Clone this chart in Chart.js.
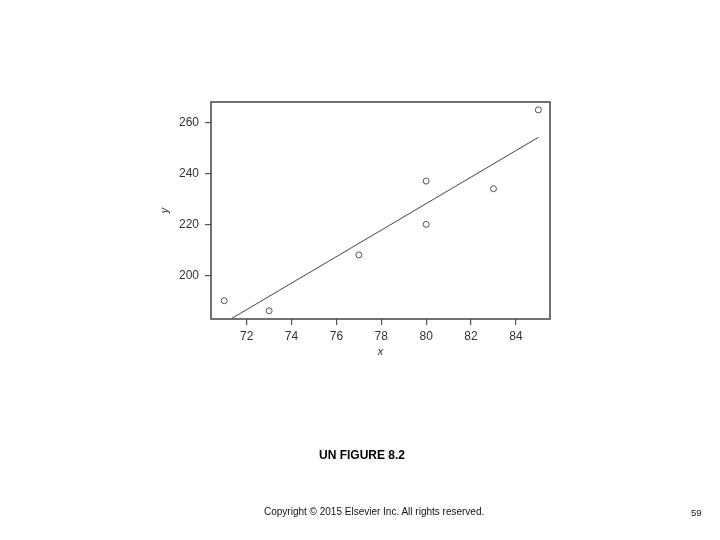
<!DOCTYPE html>
<html>
<head>
<meta charset="utf-8">
<script src="https://cdn.jsdelivr.net/npm/chart.js@4.4.1/dist/chart.umd.min.js"></script>
<style>
  html, body { margin: 0; padding: 0; background: #fff; }
  #wrap { position: relative; width: 720px; height: 540px; }
  #wrap canvas { position: absolute; left: 0; top: 0; }
  .txt { position: absolute; font-family: "Liberation Sans", Arial, sans-serif; color: #000; white-space: nowrap; }
  #fig { left: 319px; top: 448px; font-size: 12px; font-weight: bold; }
  #copy { left: 264px; top: 506px; font-size: 10px; color: #111; }
  #page { left: 691px; top: 507px; font-size: 9.5px; color: #111; }
</style>
</head>
<body>
<div id="wrap">
  <canvas id="chart" width="720" height="540"></canvas>
  <div class="txt" id="fig">UN FIGURE 8.2</div>
  <div class="txt" id="copy">Copyright © 2015 Elsevier Inc. All rights reserved.</div>
  <div class="txt" id="page">59</div>
</div>
<script>
// observed points
const xVals = [71, 73, 77, 80, 80, 83, 85];
const yVals = [190, 186, 208, 237, 220, 234, 265];

// fitted line, end points
const fitX = [71.35, 85];
const fitY = [183.1, 254.2];

// axis ticks
const xTicks = [72, 74, 76, 78, 80, 82, 84];
const yTicks = [200, 220, 240, 260];

const axisColor = '#555';
const labelColor = '#333';

// full box around the plot area
const frame = {
  id: 'frame',
  afterDraw(chart) {
    const a = chart.chartArea;
    const ctx = chart.ctx;
    ctx.save();
    ctx.strokeStyle = '#444';
    ctx.lineWidth = 1.5;
    ctx.strokeRect(a.left, a.top, a.right - a.left, a.bottom - a.top);
    ctx.restore();
  }
};

new Chart(document.getElementById('chart'), {
  type: 'scatter',
  data: {
    datasets: [
      {
        data: xVals.map((x, i) => ({ x: x, y: yVals[i] })),
        showLine: false,
        pointStyle: 'circle',
        pointRadius: 3,
        pointBorderWidth: 1,
        pointBorderColor: '#555',
        pointBackgroundColor: '#fff'
      },
      {
        data: fitX.map((x, i) => ({ x: x, y: fitY[i] })),
        showLine: true,
        pointRadius: 0,
        borderColor: '#444',
        borderWidth: 1,
        fill: false
      }
    ]
  },
  options: {
    responsive: false,
    animation: false,
    layout: { padding: { left: 150, top: 102, right: 170, bottom: 176 } },
    plugins: { legend: { display: false }, tooltip: { enabled: false } },
    scales: {
      x: {
        type: 'linear',
        min: 70.41,
        max: 85.52,
        afterBuildTicks: (s) => { s.ticks = xTicks.map(v => ({ value: v })); },
        afterFit: (s) => { s.height = 45; },
        grid: { drawOnChartArea: false, drawTicks: true, tickLength: 6, tickColor: axisColor, lineWidth: 1.2 },
        border: { display: false },
        ticks: { color: labelColor, padding: 4, maxRotation: 0, font: { family: 'Liberation Sans', size: 12 } },
        title: { display: true, text: 'x', color: labelColor, padding: { top: 0, bottom: 5 },
                 font: { family: 'Liberation Sans', size: 11, style: 'italic' } }
      },
      y: {
        type: 'linear',
        min: 182.8,
        max: 268.1,
        afterBuildTicks: (s) => { s.ticks = yTicks.map(v => ({ value: v })); },
        afterFit: (s) => { s.width = 61; },
        grid: { drawOnChartArea: false, drawTicks: true, tickLength: 6, tickColor: axisColor, lineWidth: 1.2 },
        border: { display: false },
        ticks: { color: labelColor, padding: 6, font: { family: 'Liberation Sans', size: 12 } },
        title: { display: true, text: 'y', color: labelColor, padding: { top: 8, bottom: 0 },
                 font: { family: 'Liberation Sans', size: 11, style: 'italic' } }
      }
    }
  },
  plugins: [frame]
});
</script>
</body>
</html>
